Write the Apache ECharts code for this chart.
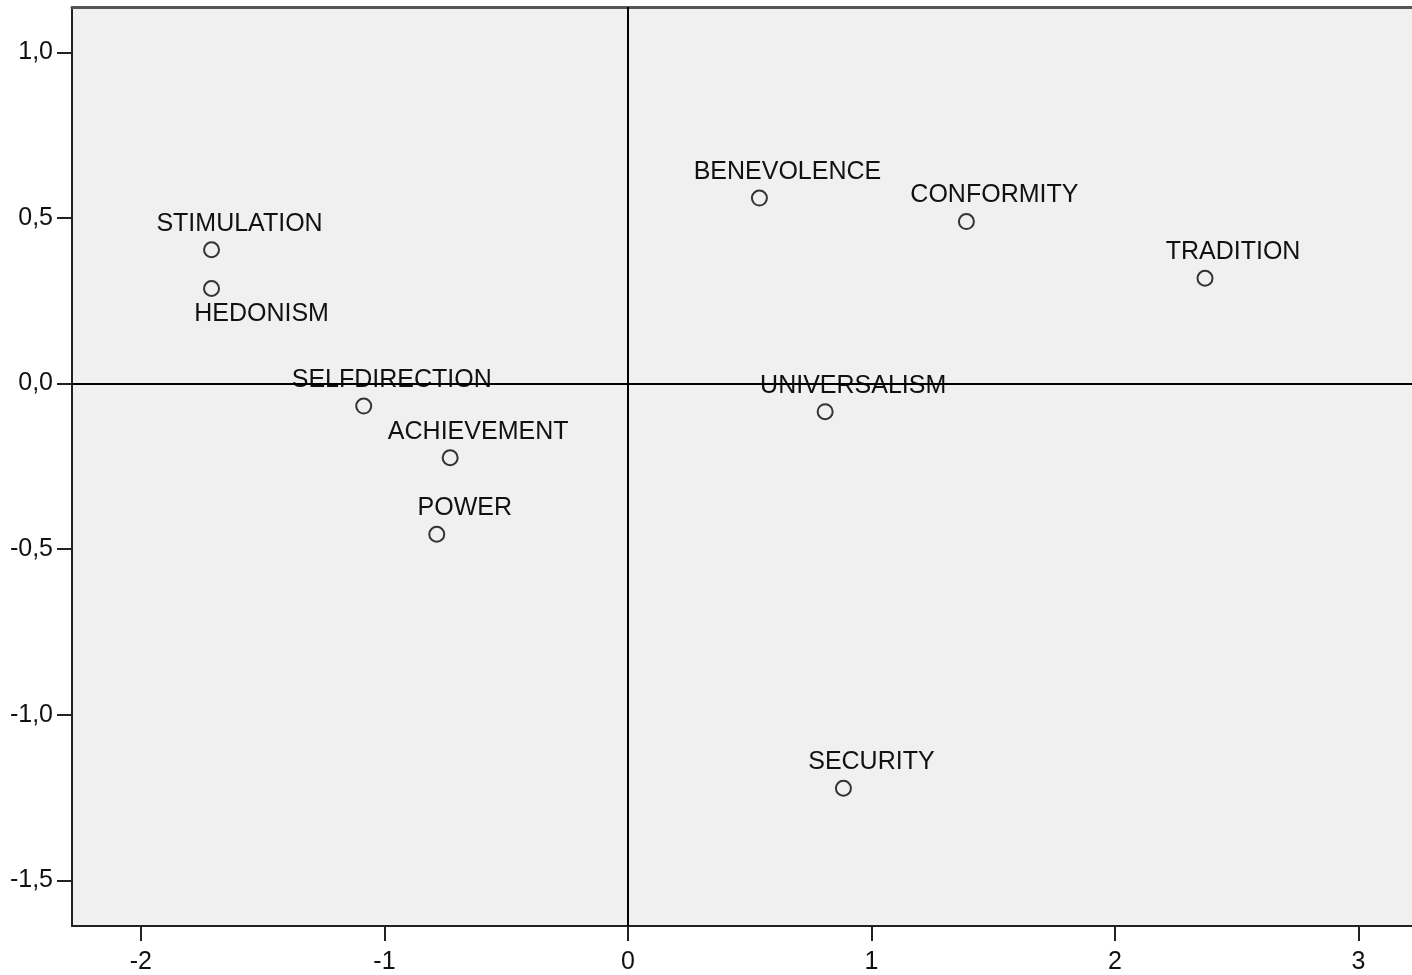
<!DOCTYPE html>
<html>
<head>
<meta charset="utf-8">
<script src="https://cdn.jsdelivr.net/npm/echarts@6/dist/echarts.min.js"></script>
<style>
  html, body { margin: 0; padding: 0; background: #ffffff; }
  #main { width: 1412px; height: 975px; }
</style>
</head>
<body>
<div id="main"></div>
<script>
// 点的名称和坐标
var names = ['STIMULATION', 'HEDONISM', 'SELFDIRECTION', 'ACHIEVEMENT', 'POWER',
             'BENEVOLENCE', 'CONFORMITY', 'TRADITION', 'UNIVERSALISM', 'SECURITY'];
var xs = [-1.71, -1.71, -1.085, -0.73, -0.785, 0.54, 1.39, 2.37, 0.81, 0.885];
var ys = [0.404, 0.287, -0.068, -0.224, -0.455, 0.56, 0.489, 0.318, -0.085, -1.222];
// 坐标轴刻度
var xTicks = [-2, -1, 0, 1, 2, 3];
var yTicks = [1.0, 0.5, 0.0, -0.5, -1.0, -1.5];

var font = 'Liberation Sans, Arial, sans-serif';

// HEDONISM 的标签在点下方
var labelBelow = { 'HEDONISM': true };

var points = names.map(function (n, i) {
    var item = { name: n, value: [xs[i], ys[i]] };
    if (labelBelow[n]) {
        item.label = { position: 'bottom', offset: [50, 0] };
    }
    return item;
});

var xMin = -2.283, xMax = 3.22;

var myChart = echarts.init(document.getElementById('main'));
var option = {
    animation: false,
    backgroundColor: '#ffffff',
    grid: {
        left: 72, top: 7, right: 0, bottom: 48,
        show: true,
        backgroundColor: '#f0f0f0',
        borderWidth: 0
    },
    xAxis: [{
        type: 'value',
        min: xMin,
        max: xMax,
        splitLine: { show: false },
        axisLine: { show: true, onZero: false, lineStyle: { color: '#222', width: 2 } },
        axisTick: { show: true, customValues: xTicks, length: 15, lineStyle: { color: '#222', width: 2 } },
        axisLabel: {
            customValues: xTicks,
            margin: 24,
            color: '#111',
            fontSize: 25,
            fontFamily: font,
            formatter: function (v) { return String(v); }
        }
    }, {
        // 上边框
        type: 'value',
        position: 'top',
        min: xMin,
        max: xMax,
        splitLine: { show: false },
        axisLine: { show: true, onZero: false, lineStyle: { color: '#555', width: 3 } },
        axisTick: { show: false },
        axisLabel: { show: false }
    }],
    yAxis: {
        type: 'value',
        min: -1.638,
        max: 1.137,
        splitLine: { show: false },
        axisLine: { show: true, onZero: false, lineStyle: { color: '#222', width: 2 } },
        axisTick: { show: true, customValues: yTicks, length: 15, lineStyle: { color: '#222', width: 2 } },
        axisLabel: {
            customValues: yTicks,
            margin: 19,
            color: '#111',
            fontSize: 25,
            fontFamily: font,
            formatter: function (v) { return v.toFixed(1).replace('.', ','); }
        }
    },
    series: [{
        type: 'scatter',
        data: points,
        symbol: 'circle',
        symbolSize: 15,
        itemStyle: { color: '#f0f0f0', borderColor: '#333', borderWidth: 2, opacity: 1 },
        label: {
            show: true,
            position: 'top',
            offset: [28, 0],
            formatter: '{b}',
            color: '#111',
            fontSize: 25,
            fontFamily: font
        },
        markLine: {
            silent: true,
            symbol: 'none',
            label: { show: false },
            lineStyle: { color: '#000', width: 2, type: 'solid' },
            data: [{ xAxis: 0 }, { yAxis: 0 }]
        }
    }]
};
myChart.setOption(option);
</script>
</body>
</html>
